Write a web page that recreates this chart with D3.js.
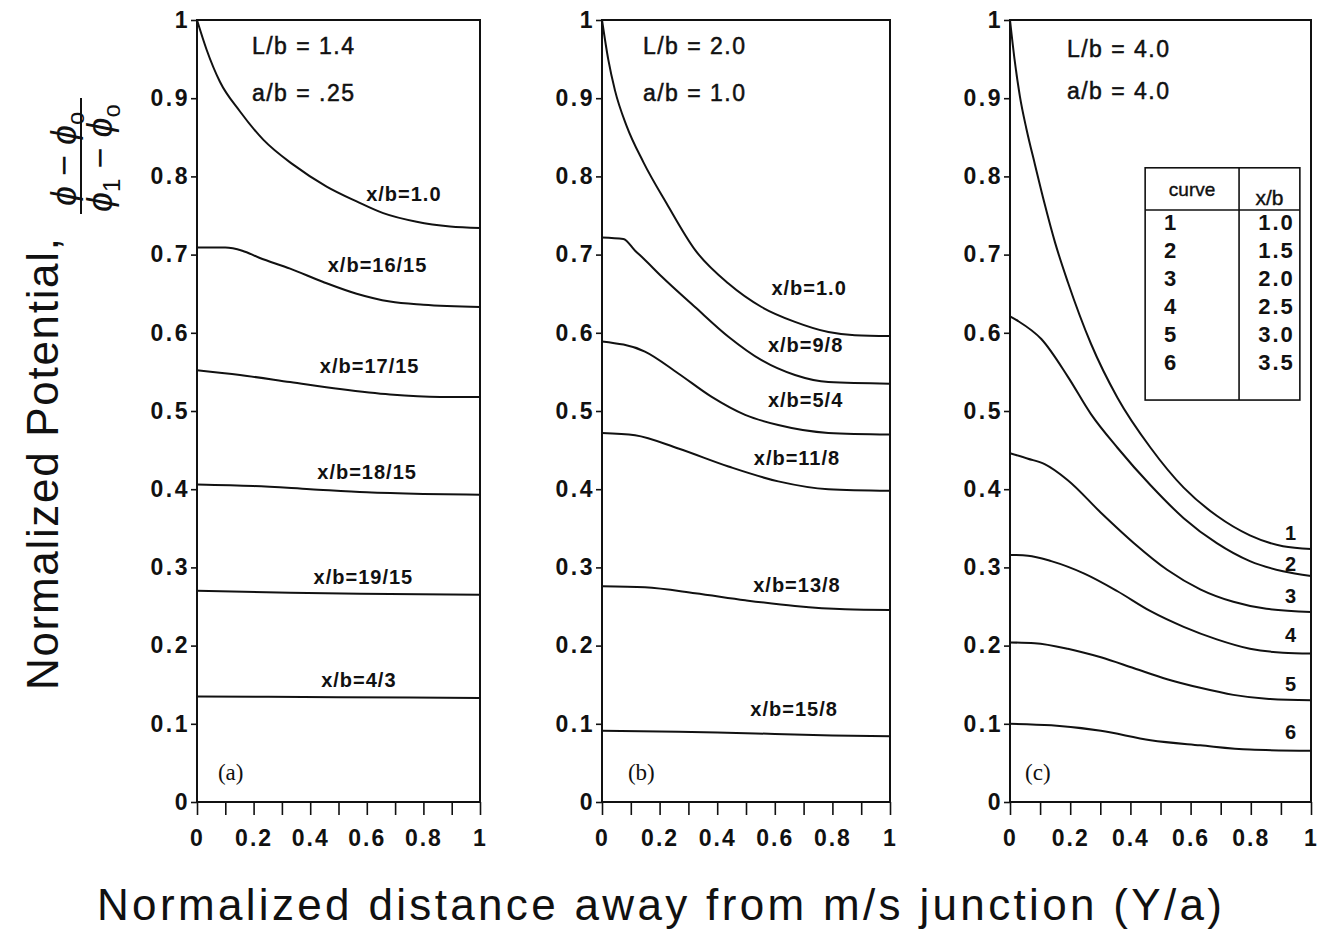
<!DOCTYPE html>
<html>
<head>
<meta charset="utf-8">
<script src="https://cdn.jsdelivr.net/npm/d3@7"></script>
<style>
  body { margin: 0; background: #fff; }
  svg text { font-family: "Liberation Sans", Arial, Helvetica, sans-serif; fill: #111; }
</style>
</head>
<body>
<svg id="chart" width="1325" height="946"></svg>
<script>
// --- Data ---
const yTicks = [0, 0.1, 0.2, 0.3, 0.4, 0.5, 0.6, 0.7, 0.8, 0.9, 1];
const xTicks = [0, 0.1, 0.2, 0.3, 0.4, 0.5, 0.6, 0.7, 0.8, 0.9, 1];
const xTickLabels = [0, 0.2, 0.4, 0.6, 0.8, 1];

// panel (a): L/b = 1.4, a/b = .25
const curvesA = [
  [[0, 1.0], [0.034, 0.962], [0.081, 0.921], [0.152, 0.883], [0.234, 0.847], [0.34, 0.815], [0.458, 0.787], [0.564, 0.768], [0.658, 0.753], [0.776, 0.742], [0.894, 0.736], [1, 0.734]],
  [[0, 0.709], [0.1, 0.709], [0.16, 0.705], [0.22, 0.696], [0.329, 0.682], [0.446, 0.665], [0.564, 0.650], [0.682, 0.640], [0.8, 0.636], [1, 0.633]],
  [[0, 0.552], [0.152, 0.546], [0.329, 0.537], [0.505, 0.528], [0.682, 0.521], [0.859, 0.518], [1, 0.518]],
  [[0, 0.406], [0.2, 0.404], [0.4, 0.400], [0.6, 0.396], [0.8, 0.394], [1, 0.393]],
  [[0, 0.270], [0.329, 0.2675], [0.682, 0.266], [1, 0.265]],
  [[0, 0.135], [0.5, 0.134], [1, 0.133]]
];
const labelsA = ["x/b=1.0", "x/b=16/15", "x/b=17/15", "x/b=18/15", "x/b=19/15", "x/b=4/3"];
const labelPosA = [[0.731, 0.769], [0.638, 0.678], [0.610, 0.549], [0.601, 0.413], [0.588, 0.279], [0.572, 0.147]];

// panel (b): L/b = 2.0, a/b = 1.0
const curvesB = [
  [[0, 1.0], [0.022, 0.949], [0.045, 0.910], [0.086, 0.864], [0.144, 0.818], [0.225, 0.765], [0.323, 0.706], [0.439, 0.663], [0.554, 0.633], [0.670, 0.614], [0.786, 0.601], [0.878, 0.597], [1, 0.596]],
  [[0, 0.722], [0.074, 0.720], [0.115, 0.705], [0.144, 0.695], [0.207, 0.672], [0.323, 0.633], [0.439, 0.595], [0.554, 0.565], [0.670, 0.546], [0.786, 0.537], [1, 0.535]],
  [[0, 0.589], [0.149, 0.576], [0.265, 0.548], [0.381, 0.518], [0.497, 0.495], [0.612, 0.482], [0.786, 0.472], [1, 0.470]],
  [[0, 0.472], [0.115, 0.469], [0.265, 0.452], [0.439, 0.429], [0.612, 0.410], [0.786, 0.400], [1, 0.398]],
  [[0, 0.276], [0.149, 0.2745], [0.323, 0.267], [0.497, 0.258], [0.670, 0.2506], [0.844, 0.2464], [1, 0.2455]],
  [[0, 0.091], [0.2, 0.090], [0.4, 0.089], [0.6, 0.087], [0.8, 0.085], [1, 0.084]]
];
const labelsB = ["x/b=1.0", "x/b=9/8", "x/b=5/4", "x/b=11/8", "x/b=13/8", "x/b=15/8"];
const labelPosB = [[0.719, 0.648], [0.707, 0.575], [0.707, 0.505], [0.677, 0.431], [0.677, 0.2685], [0.667, 0.110]];

// panel (c): L/b = 4.0, a/b = 4.0
const curvesC = [
  [[0, 1.0], [0.015, 0.95], [0.033, 0.902], [0.055, 0.86], [0.083, 0.815], [0.115, 0.765], [0.15, 0.715], [0.192, 0.665], [0.269, 0.586], [0.357, 0.517], [0.467, 0.453], [0.577, 0.402], [0.687, 0.366], [0.797, 0.341], [0.907, 0.327], [1, 0.3235]],
  [[0, 0.621], [0.027, 0.615], [0.104, 0.592], [0.192, 0.544], [0.269, 0.496], [0.357, 0.453], [0.467, 0.405], [0.577, 0.363], [0.687, 0.331], [0.797, 0.308], [0.907, 0.295], [1, 0.289]],
  [[0, 0.446], [0.06, 0.439], [0.115, 0.432], [0.192, 0.4115], [0.302, 0.370], [0.412, 0.331], [0.522, 0.297], [0.632, 0.272], [0.742, 0.256], [0.852, 0.247], [1, 0.243]],
  [[0, 0.316], [0.06, 0.315], [0.137, 0.308], [0.247, 0.292], [0.357, 0.2695], [0.467, 0.244], [0.577, 0.224], [0.687, 0.208], [0.797, 0.196], [0.907, 0.191], [1, 0.190]],
  [[0, 0.204], [0.082, 0.203], [0.192, 0.196], [0.302, 0.185], [0.412, 0.171], [0.522, 0.157], [0.632, 0.146], [0.742, 0.137], [0.852, 0.132], [1, 0.130]],
  [[0, 0.100], [0.137, 0.098], [0.302, 0.091], [0.467, 0.079], [0.632, 0.0725], [0.797, 0.067], [1, 0.0656]]
];
const labelsC = ["1", "2", "3", "4", "5", "6"];
const labelPosC = [[0.934, 0.335], [0.934, 0.295], [0.934, 0.2545], [0.934, 0.2046], [0.934, 0.142], [0.934, 0.0806]];

// legend table in panel (c)
const tableCurve = ["1", "2", "3", "4", "5", "6"];
const tableXb = ["1.0", "1.5", "2.0", "2.5", "3.0", "3.5"];

const panelNotes = [["L/b = 1.4", "a/b = .25"], ["L/b = 2.0", "a/b = 1.0"], ["L/b = 4.0", "a/b = 4.0"]];
const panelTags = ["(a)", "(b)", "(c)"];

// --- Layout ---
const svg = d3.select("#chart");
const plotTop = 20, plotBottom = 802;
const panels = [
  { x0: 197, x1: 480, curves: curvesA, labels: labelsA, labelPos: labelPosA, notePos: [0.194, 0.9565, 0.8965], tagPos: [0.074, 0.028], labelSize: 20 },
  { x0: 602, x1: 890, curves: curvesB, labels: labelsB, labelPos: labelPosB, notePos: [0.142, 0.9565, 0.8965], tagPos: [0.09, 0.028], labelSize: 20 },
  { x0: 1010, x1: 1311, curves: curvesC, labels: labelsC, labelPos: labelPosC, notePos: [0.189, 0.9525, 0.8995], tagPos: [0.05, 0.028], labelSize: 20 }
];

const fmt = d => (d === 0 ? "0" : d === 1 ? "1" : d3.format(".1f")(d));

panels.forEach((p, i) => {
  const x = d3.scaleLinear().domain([0, 1]).range([p.x0, p.x1]);
  const y = d3.scaleLinear().domain([0, 1]).range([plotBottom, plotTop]);
  const g = svg.append("g").attr("class", "panel");

  // frame
  g.append("rect")
    .attr("x", p.x0).attr("y", plotTop)
    .attr("width", p.x1 - p.x0).attr("height", plotBottom - plotTop)
    .attr("fill", "none").attr("stroke", "#111").attr("stroke-width", 2);

  // y axis
  const yAxisG = g.append("g")
    .attr("transform", `translate(${p.x0},0)`)
    .call(d3.axisLeft(y).tickValues(yTicks).tickSize(6).tickPadding(1).tickFormat(fmt));
  yAxisG.select(".domain").remove();
  yAxisG.selectAll("line").attr("stroke", "#111").attr("stroke-width", 1.6);
  yAxisG.selectAll("text")
    .attr("fill", "#111")
    .style("font-family", "'Liberation Sans', Arial, sans-serif")
    .style("font-size", "23px")
    .style("font-weight", "bold")
    .style("letter-spacing", "2.5px");

  // x axis
  const xAxisG = g.append("g")
    .attr("transform", `translate(0,${plotBottom})`)
    .call(d3.axisBottom(x).tickValues(xTicks).tickSize(13).tickPadding(15)
      .tickFormat(d => (xTickLabels.some(v => Math.abs(v - d) < 1e-9) ? fmt(d) : "")));
  xAxisG.select(".domain").remove();
  xAxisG.selectAll("line").attr("stroke", "#111").attr("stroke-width", 1.6);
  xAxisG.selectAll("text")
    .attr("fill", "#111")
    .style("font-family", "'Liberation Sans', Arial, sans-serif")
    .style("font-size", "23px")
    .style("font-weight", "bold")
    .style("letter-spacing", "2px");

  // curves
  const line = d3.line()
    .x(d => x(d[0]))
    .y(d => y(d[1]))
    .curve(d3.curveMonotoneX);

  g.selectAll(".curve")
    .data(p.curves)
    .enter()
    .append("path")
    .attr("class", "curve")
    .attr("d", line)
    .attr("fill", "none")
    .attr("stroke", "#111")
    .attr("stroke-width", 2);

  // curve labels
  g.selectAll(".clabel")
    .data(p.labels)
    .enter()
    .append("text")
    .attr("class", "clabel")
    .attr("x", (d, k) => x(p.labelPos[k][0]))
    .attr("y", (d, k) => y(p.labelPos[k][1]))
    .attr("text-anchor", "middle")
    .style("font-size", p.labelSize + "px")
    .style("font-weight", "bold")
    .style("letter-spacing", "1px")
    .text(d => d);

  // L/b, a/b notes
  panelNotes[i].forEach((t, k) => {
    g.append("text")
      .attr("x", x(p.notePos[0]))
      .attr("y", y(p.notePos[k + 1]))
      .style("font-size", "23px")
      .style("letter-spacing", "1.5px")
      .attr("stroke", "#111").attr("stroke-width", 0.5)
      .text(t);
  });

  // (a)/(b)/(c) tag
  g.append("text")
    .attr("x", x(p.tagPos[0]))
    .attr("y", y(p.tagPos[1]))
    .style("font-family", "'Liberation Serif', 'Times New Roman', serif")
    .style("font-size", "23px")
    .text(panelTags[i]);

  // legend table (panel c only)
  if (i === 2) {
    const tx0 = x(0.449), tx1 = x(0.963), tdiv = x(0.761);
    const ty0 = y(0.811), ty1 = y(0.514), thead = y(0.757);
    const tg = g.append("g").attr("class", "table");
    tg.append("rect")
      .attr("x", tx0).attr("y", ty0)
      .attr("width", tx1 - tx0).attr("height", ty1 - ty0)
      .attr("fill", "#fff").attr("stroke", "#111").attr("stroke-width", 1.6);
    tg.append("line")
      .attr("x1", tdiv).attr("x2", tdiv).attr("y1", ty0).attr("y2", ty1)
      .attr("stroke", "#111").attr("stroke-width", 1.6);
    tg.append("line")
      .attr("x1", tx0).attr("x2", tx1).attr("y1", thead).attr("y2", thead)
      .attr("stroke", "#111").attr("stroke-width", 1.6);
    tg.append("text")
      .attr("x", (tx0 + tdiv) / 2).attr("y", ty0 + 28)
      .attr("text-anchor", "middle")
      .style("font-size", "19px")
      .attr("stroke", "#111").attr("stroke-width", 0.4)
      .text("curve");
    tg.append("text")
      .attr("x", (tdiv + tx1) / 2).attr("y", ty0 + 37)
      .attr("text-anchor", "middle")
      .style("font-size", "21px")
      .attr("stroke", "#111").attr("stroke-width", 0.4)
      .text("x/b");
    const rowStep = 28;
    tg.selectAll(".tc")
      .data(tableCurve)
      .enter()
      .append("text")
      .attr("x", tx0 + 25)
      .attr("y", (d, k) => ty0 + 62 + k * rowStep)
      .attr("text-anchor", "middle")
      .style("font-size", "22px").style("font-weight", "bold")
      .text(d => d);
    tg.selectAll(".tx")
      .data(tableXb)
      .enter()
      .append("text")
      .attr("x", tx1 - 5)
      .attr("y", (d, k) => ty0 + 62 + k * rowStep)
      .attr("text-anchor", "end")
      .style("font-size", "22px").style("font-weight", "bold")
      .style("letter-spacing", "2px")
      .text(d => d);
  }
});

// --- Axis titles ---
svg.append("text")
  .attr("x", 97).attr("y", 920)
  .attr("textLength", 1125).attr("lengthAdjust", "spacing")
  .style("font-size", "44px")
  .text("Normalized distance away from m/s junction (Y/a)");

svg.append("text")
  .attr("transform", "translate(58,690) rotate(-90)")
  .attr("textLength", 452).attr("lengthAdjust", "spacing")
  .style("font-size", "44px")
  .text("Normalized Potential,");

// fraction (phi - phi_o)/(phi_1 - phi_o), rotated like the title
const frac = svg.append("g").attr("class", "fraction");
const num = frac.append("text")
  .attr("transform", "translate(76,206) rotate(-90)")
  .style("font-size", "36px");
num.append("tspan").style("font-style", "italic").text("ϕ");
num.append("tspan").text(" − ");
num.append("tspan").style("font-style", "italic").text("ϕ");
num.append("tspan").attr("dy", 8).style("font-size", "24px").text("o");

frac.append("line")
  .attr("x1", 81).attr("x2", 81).attr("y1", 98).attr("y2", 214)
  .attr("stroke", "#111").attr("stroke-width", 2);

const den = frac.append("text")
  .attr("transform", "translate(112,212) rotate(-90)")
  .style("font-size", "36px");
den.append("tspan").style("font-style", "italic").text("ϕ");
den.append("tspan").attr("dy", 8).style("font-size", "24px").text("1");
den.append("tspan").attr("dy", -8).text(" − ");
den.append("tspan").style("font-style", "italic").text("ϕ");
den.append("tspan").attr("dy", 8).style("font-size", "24px").text("o");
</script>
</body>
</html>
